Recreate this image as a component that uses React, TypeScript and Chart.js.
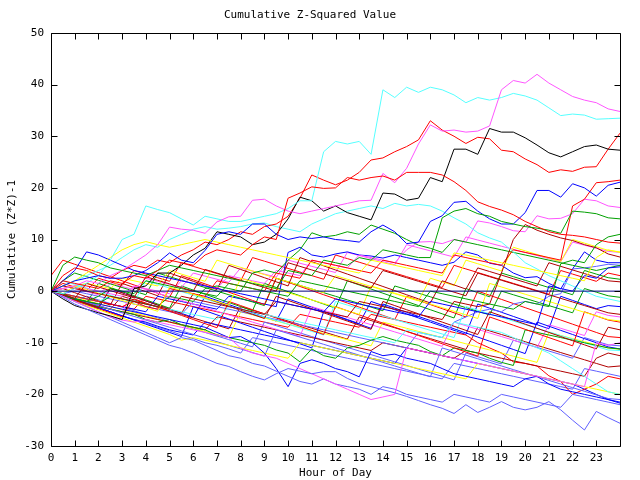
import React, { useEffect, useRef } from "react";
import { Chart, registerables } from "chart.js";

Chart.register(...registerables);

// x positions (hour of day), half-hour steps
const HOURS = [0,0.5,1,1.5,2,2.5,3,3.5,4,4.5,5,5.5,6,6.5,7,7.5,8,8.5,9,9.5,10,10.5,11,11.5,12,12.5,13,13.5,14,14.5,15,15.5,16,16.5,17,17.5,18,18.5,19,19.5,20,20.5,21,21.5,22,22.5,23,23.5,24];
const X_TICKS = [0,1,2,3,4,5,6,7,8,9,10,11,12,13,14,15,16,17,18,19,20,21,22,23];
const Y_TICKS = [-30,-20,-10,0,10,20,30,40,50];

const S_CYAN_TOP = [0,-0.5,0.5,1.5,3,6,10,11, 16.5,15.8,15.2,14,12.8,14.5,14,13.5, 13.5,14,14.5,15,16,17.5,17.5,27, 29,28.5,29,26.5,39,37.5,39.5,38.5, 39.5,39,38,36.5,37.5,37,37.5,38.3, 37.8,37,35.5,34,34.3,34.1,33.3,33.4, 33.5];
const S_MAG_TOP = [0,0.5,1,2,1.5,3,4,5.5, 7,9,12.4,12,11.8,11.2,13.4,14.4, 14.5,17.6,17.8,16.5,15.5,15,15.5,16, 16.5,17,17.5,17.6,22.8,21,23.8,28.5, 32.2,31,31.2,30.8,31,32,39,40.8, 40.3,42,40.3,39,37.7,37,36.5,35.3, 34.8];
const S_RED_TOP = [0,3,4.5,4,3,2.5,4,5, 4.5,6,5.5,7,8,9.5,9,10, 11.5,11,12.5,13,14.5,18,22.5,21.5, 20.6,21.5,23,25.4,25.8,27,28,29.3, 33,31.2,30,28.6,29.8,29.5,27.3,27, 25.6,24.5,23,23.5,23.2,24,24.1,27.5, 30.6];
const S_RED_2 = [0,2,1.5,1,0.5,2,1.5,3, 2.5,4,6,5.5,5,7,8,7.5, 7,9,10.5,10,18,19,20.2,19.9, 20,22,21.5,22,22.3,21.5,23,23, 23,22.5,21.2,19.5,17.3,16.4,15.7,14.8, 13.5,12.5,11.5,11,10.8,10.5,10,9.5, 9.3];
const S_BLACK = [0,-1.5,-2.8,-3.5,-4.2,-4.8,-5.5,0.5, 1,3.5,3.5,5,7,8.3,11.5,11, 10.5,9,9.5,11,14,18.2,17.5,15.5, 16.5,15.2,14.5,13.8,19,18.8,17.6,18, 22,21.2,27.5,27.5,26.5,31.5,30.8,30.8, 29.7,28.3,26.8,26,27,28,28.3,27.5, 27.3];
const S_BLUE_1 = [0,1,2,2.5,3,2.5,2.5,3, 4,5.5,7.4,6,5.5,7.9,11,11.5, 11,13,13,11,10,10.5,10.2,10.5, 10,9.8,9.5,11.5,12.8,11.5,9.2,9.5, 13.5,14.6,17.2,17.4,15.5,14,13,13, 15.2,19.5,19.5,18.2,20.8,20,18.4,20.5, 21.1];
const S_RED_3 = [0,-0.5,-1,-1.5,-2,-2.5,-3,-2, -3,-3.5,0.5,0,-0.5,-1,2,1.5, 1,0.5,0,3.5,3,2.5,6,5.5, 5,4.5,4,3.5,6,5.5,5,4.5, 4,3.5,7,6.5,6,5.5,5,8, 7.5,7,6.5,6,16.5,17.8,21,21.2, 21.5];
const S_GREEN_1 = [0,5,6.6,6,5.5,4.5,4,3.5, 3,4,5,4.5,4,3.5,3,2.5, 2,1.5,1,0.5,4,3.5,3,6, 5.5,5,6.5,6,8,7.5,7,6.5, 6.5,14.2,15.5,16,15,14.5,13.5,13, 12.5,12.2,11.8,11.2,15.5,15.3,15,14.2, 14];
const S_GREEN_2 = [0,-0.5,-1.5,-2,-1,0.5,0,-0.5, 2,1.5,1,0.5,0,-0.5,-1,1.5, 1,0.5,0,-0.5,-1,2,1.5,1, 0.5,0,-0.5,-1,-1.5,-2,-2.5,-3, 0,-0.5,-1,-1.5,-2,-2.5,-3,-3.5, -2,-2.5,-3,5.3,6,5.5,9,10.5, 11];
const S_GREEN_3 = [0,-1,-1.5,-2,-2.5,-1,-1.5,-2, -2.5,-3,-1,-1.5,-2,0.5,1,0.5, 0,3.5,4.1,3.5,6,8,11.3,10.5, 10.8,11.5,11,12.8,12,11.2,10,8.9, 8.3,7.5,10,9.5,9,8.5,8,7.5, 7,6.5,6,5.5,5,4.5,4,4.5, 5];
const S_GREEN_4 = [0,-1,-1.7,-2.5,-3,-3.5,-4,-4.5, -5.5,-6,-5.5,-6.5,-7,-7.5,-8.5,-9, -9.5,-10,-10.5,-11.4,-12,-13.7,-11.2,-12.5, -13,-11,-10.5,-9.5,-8.8,-9.5,-10,-10.5, -11.7,-12.5,-11,-11.5,-12,-13,-13.8,-14.4, -7.5,-8,-8.5,-9,-9.5,-10,-10.5,-11, -11.2];
const S_GREEN_5 = [0,2,3.5,2.8,2.1,1.4,0.7,0, -0.7,3.5,2.8,2.1,1.4,0.7,0,-0.7, -1.4,-2.1,-2.8,2.5,1.8,1.1,0.4,-0.3, -1,-1.7,-2.4,-3.1,-3.8,1,0.3,-0.4, -1.1,-1.8,-2.5,-3.2,-3.9,-4.6,0,-0.7, -1.4,-2.1,-2.8,-3.5,-4.2,0.5,-0.2,-0.9, -1.2];
const S_GREEN_6 = [0,-0.8,-1.6,-2.4,1.5,0.7,-0.1,-0.9, -1.7,-2.5,-3.3,1,0.2,-0.6,-1.4,-2.2, -3,-3.8,1.5,0.7,-0.1,-0.9,-1.7,-2.5, -3.3,2,1.2,0.4,-0.4,-1.2,-2,-2.8, -3.6,-4.4,-5.2,0.5,-0.3,-1.1,3.5,2.8, 2.1,1.4,0.7,0,-0.7,4,3.3,2.6, 2.3];
const S_DRED_1 = [0,-0.7,-1.4,1.5,0.8,0.1,-0.6,-1.3, 2.8,2.1,1.4,0.7,0,4.2,3.5,2.8, 2.1,1.4,0.7,0,5.5,4.8,4.1,3.4, 2.7,2,1.3,0.6,4,3.3,2.6,1.9, 1.2,0.5,-0.2,-0.9,3.5,2.8,2.1,1.4, 0.7,0,-0.7,-1.4,-2.1,-2.8,-3.5,-4.2, -4.5];
const S_DRED_2 = [0,1,0.5,0,-0.5,-1,-1.5,-2, -2.5,-3,-3.5,-1,-1.5,-2,-2.5,-3, -3.5,-4,-4.5,-2,-2.5,-3,-3.5,-4, -4.5,-5,-2,-2.5,-3,-3.5,-4,-4.5, -5,-5.5,-2,-2.5,-3,-2.5,3.5,10, 12.9,11.8,11,10.3,9.8,9,8.4,7.2, 6.6];
const S_DRED_3 = [0,-0.8,-1.6,-2.4,-3.2,0.5,-0.3,-1.1, -1.9,-2.7,-3.5,-4.3,-0.5,-1.3,-2.1,-2.9, -3.7,-4.5,-5.3,-1,-1.8,-2.6,-3.4,-4.2, -5,-5.8,-6.6,-7.4,-2,-2.8,-3.6,-4.4, -5.2,-6,-6.8,-7.6,-8.4,-4,-4.8,-5.6, -6.4,-7.2,-8,-8.8,-9.6,-10.4,-11.2,-7, -7.5];
const S_DRED_4 = [0,0.5,-0.3,-1.1,-1.9,-2.7,1.5,0.7, -0.1,-0.9,3.5,2.7,1.9,1.1,0.3,5, 4.2,3.4,2.6,1.8,1,6.5,5.7,4.9, 4.1,3.3,2.5,1.7,0.9,0.1,-0.7,-1.5, -2.3,2,1.2,0.4,4.5,3.8,3.1,2.4, 1.7,1,5.5,4.8,4.1,3.4,2.7,2, 1.8];
const S_DRED_5 = [0,-0.8,-1.5,-2.2,-3,-3.5,-4,-4.5, -5,-5.5,-6,-6.5,-7,-7.5,-5,-5.5, -6,-6.5,-7,-7.5,-8,-8.5,-9,-9.5, -10,-10.5,-11,-11.5,-10,-10.5,-11,-11.5, -12,-12.5,-13,-11.5,-12,-12.5,-13,-13.5, -14,-14.5,-15,-15.5,-16,-16.5,-13,-12, -12.5];
const S_DRED_6 = [0,-0.7,-1.4,-2.1,-2.8,-3.5,-1,-1.7, -2.4,-3.1,-3.8,-4.5,-5.2,-5.9,-6.6,-7.3, -3,-3.7,-4.4,-5.1,-5.8,-6.5,-7.2,-7.9, -8.6,-9.3,-5,-5.7,-6.4,-7.1,-7.8,-8.5, -9.2,-9.9,-10.6,-11.3,-7,-7.7,-8.4,-9.1, -9.8,-10.5,-11.2,-11.9,-12.6,-13.3,-14,-14.7, -14.5];
const S_RED_4 = [0,-1,-1.8,-2.6,-3.4,-4.2,-5,-1.5, -2.3,-3.1,-3.9,-4.7,-5.5,-6.3,-7.1,-2, -2.8,-3.6,-4.4,-5.2,-6,-6.8,-7.6,-8.4, -3,-3.8,-4.6,-5.4,-6.2,-7,-7.8,-8.6, -9.4,-10.2,-11,-11.8,-12.6,-5,-5.8,-6.6, -7.4,-8.2,-9,-9.8,-10.6,-4,-4.8,-5.6, -6];
const S_RED_5 = [3,6,5.2,4.4,3.6,2.8,2,1.2, 0.4,-0.4,-1.2,3,2.2,1.4,0.6,-0.2, -1,-1.8,-2.6,2.5,1.7,0.9,0.1,-0.7, -1.5,-2.3,-3.1,-3.9,-4.7,-5.5,-1,-1.8, -2.6,-3.4,-4.2,-5,0,-0.8,-1.6,-2.4, -3.2,-4,-4.8,-5.6,-6.4,-7.2,-8,-8.8, -9];
const S_RED_6 = [0,-0.5,-1,-1.5,-2,-2.5,-3,-3.5, -1,-1.5,-2,-2.5,-3,-3.5,-4,-4.5, -5,-5.5,-6,-6.5,-7,-4.5,-5,-5.5, -6,-6.5,-7,-4.5,-5,-5.5,-6,-6.5, -7,-7.5,-8,-8.5,-10,-11,-12,-13.7, -14,-14.5,-16.4,-17.5,-20,-19,-18,-16.5, -17];
const S_RED_7 = [0,1.5,0.8,0.1,2.5,1.8,1.1,4, 3.3,2.6,1.9,5.5,4.8,4.1,3.4,2.7, 2,6.5,5.8,5.1,4.4,3.7,3,2.3, 7,6.3,5.6,4.9,4.2,3.5,2.8,2.1, 1.4,0.7,5,4.3,3.6,2.9,2.2,1.5, 0.8,0.1,-0.6,4,3.3,2.6,1.9,3.5, 3];
const S_BLUE_2 = [0,2,4,7.6,7,6,5,4, 3.5,3,2.5,2,1.5,1,0.5,0, -0.5,-1,-1.5,-2,-2.5,-3,-3.5,-4, -1.5,-2,-2.5,-3,-3.5,-4,-4.5,-5, -2,-2.5,-3,-3.5,-4,-4.5,-5,-5.5, -6,-6.5,1,0.5,0,3,2.5,4.5, 4.7];
const S_BLUE_3 = [0,-1,-1.5,-2,-2.5,-3,-3.5,-4, -4.5,-5,-5.5,-6,-6.5,-7,-8,-9, -8.8,-10,-12,-15,-18.5,-14,-13.3,-14, -15,-15.6,-16.6,-11.7,-12.5,-12.2,-13,-13.5, -14,-15,-16,-16.5,-17,-17.5,-18,-18.5, -17,-16.5,-18,-19,-19.5,-20,-20.5,-21, -21.5];
const S_BLUE_4 = [0,-0.8,-1.6,-2.4,-3.2,-4,-4.8,-5.6, -6.4,-7.2,-8,-8.8,-3,-3.8,-4.6,-5.4, -6.2,-7,-7.8,-8.6,-9.4,-10.2,-11,-4, -4.8,-5.6,-6.4,-7.2,-2.5,-3.3,-4.1,-4.9, -5.7,-6.5,-7.3,-8.1,-8.9,-9.7,-10.5,-11.3, -12.1,-6,-6.8,-7.6,-8.4,-9.2,-10,-10.8, -11.2];
const S_BLUE_5 = [0,-0.5,-1,-1.5,-2,-2.5,-3,-3.5, -4,-1,-1.5,-2,-2.5,-3,-3.5,-1, -1.5,-2,-2.5,-3,7.5,8.5,7,6.6, 7.2,7.6,7,6.8,6.4,7,6.5,6, 5.5,5,5.6,7.6,7,5.4,5,3.5, 2.6,2.8,1.5,0.4,4.3,7.6,6,5.5, 5.5];
const S_BLUE_6 = [0,-1,-1.8,-2.5,-3.2,-4,-4.8,-5.5, -6,-6.8,-7.5,-8,-8.5,-6,-6.5,-7, -7.5,-8,-8.5,-9,-9.5,-10,-10.5,-11, -11.5,-12,-12.5,-13,-13.5,-14,-11,-11.5, -12,-12.5,-13,-13.5,-14,-14.5,-15,-15.5, -16,-16.5,-17,-17.5,-18,-19,-20,-21, -21.7];
const S_BLUE_7 = [0,-1,-1.8,-2.6,-3.4,0.5,-0.3,-1.1, -1.9,-2.7,-3.5,-4.3,-5.1,-1,-1.8,-2.6, -3.4,-4.2,-5,-5.8,-1.5,-2.3,-3.1,-3.9, -4.7,-5.5,-6.3,-2,-2.8,-3.6,-4.4,-5.2, -6,-6.8,-7.6,-8.4,-2.5,-3.3,-4.1,-4.9, -5.7,-6.5,-7.3,-1,-1.8,-2.6,-3.4,-2.8, -3];
const S_LBLUE_1 = [0,-1.2,-2.5,-3.5,-4.5,-5.5,-6.5,-7.5, -8.5,-9.5,-10.5,-11.1,-12,-13,-14,-14.6, -15.6,-16.5,-17.2,-16,-15,-15.5,-16,-15.6, -15.6,-16.9,-17.9,-18.5,-19.1,-19.7,-20.4,-21.2, -22,-22.7,-23.7,-22,-23.5,-22.5,-21.4,-22.5, -23,-22.5,-21.4,-23,-25,-26.9,-23.3,-24.5, -25.6];
const S_LBLUE_2 = [0,-1,-2,-3,-4,-5,-6,-7, -8,-9,-10,-9,-9.5,-10.5,-11.5,-12.5, -13,-14,-14.5,-15.5,-16.5,-17.5,-18,-17, -18,-18.5,-19,-20,-18.5,-19,-20,-20.5, -21,-21.5,-20,-20.5,-21,-21.5,-20,-20.5, -21,-21.5,-22,-22.5,-20,-20.5,-21,-21.5, -22];
const S_LBLUE_3 = [0,-0.7,-1.4,-2.1,-2.8,-3.5,-4.2,-4.9, -5.6,-6.3,-7,-7.7,-8.4,-9.1,-9.8,-10.5, -11.2,-11.9,-12.6,-7.5,-8.2,-8.9,-9.6,-10.3, -11,-11.7,-12.4,-13.1,-13.8,-14.5,-15.2,-15.9, -16.6,-11,-11.7,-12.4,-13.1,-13.8,-14.5,-15.2, -15.9,-16.6,-17.3,-18,-18.7,-19.4,-20.1,-20.8, -21];
const S_LBLUE_4 = [0,-0.5,0,-0.5,-1,-1.5,-2,-2.5, -3,-3.5,-4,-4.5,-2,-2.5,-3,-3.5, -4,-4.5,-5,-5.5,-6,-6.5,-7,-7.5, -8,-8.5,-9,-9.5,-10,-10.5,-11,-8, -8.5,-9,-6,-5,-4,-3.5,-4,-2.5, -2,-2.5,-1,-0.5,4.3,4.5,4.8,5.2, 5];
const S_LBLUE_5 = [0,-1,-1.7,-1,-1.7,-2.4,-3.1,-3.8, -4.5,-5.2,-5.9,-6.6,-7.3,-8,-8.7,-9.4, -10.1,-10.8,-6,-6.7,-7.4,-8.1,-8.8,-9.5, -10.2,-10.9,-11.6,-12.3,-13,-13.7,-14.4,-15.1, -15.8,-16.5,-17.2,-12,-12.7,-13.4,-14.1,-9.5, -10.2,-10.9,-11.6,-12.3,-13,-9,-9.7,-10.4, -10.6];
const S_LBLUE_6 = [0,-0.8,-1.6,-2.4,-3.2,-4,-4.8,-5.5, -6.2,-7,-7.7,-8.5,-9.2,-10,-10.5,-11.2, -12,-9,-9.5,-10,-10.5,-11,-11.5,-12, -12.5,-13,-13.5,-14,-14.5,-15,-15.5,-16, -16.5,-17,-14,-14.5,-15,-15.5,-16,-16.5, -17,-17.5,-18,-18.5,-19,-15,-15.5,-16, -16.5];
const S_MAG_2 = [0,-1,-2,-3,-4,-5,-5.6,-6, -5.5,-6,-6.5,-7,-7.5,-8,-8.5,-9, -11,-12,-12.5,-13,-14,-15,-16,-17, -18,-19,-20,-21,-20.5,-20,-11,-11.5, -12,-12.5,-13,-13.5,-14,-14.5,-15,-15.5, -16,-16.5,-17,-17.5,-18,-18.5,-10,-10.5, -10];
const S_MAG_3 = [0,0.5,1,0.5,0,-0.5,-1,1, 0.5,0,-0.5,2,1.5,1,0.5,3, 2.5,2,1.5,4,3.5,3,6,5.5, 5,4.5,7,6.5,6,5.5,8,9.5, 9.6,9.2,10,9.5,13.6,13.2,12.5,11.7, 11.5,14.6,14,14.1,15,17.8,17.5,16.5, 16.2];
const S_MAG_4 = [0,-0.7,-1.4,-2.1,-2.8,-3.5,-4.2,1, 0.3,-0.4,-1.1,-1.8,-2.5,-3.2,-3.9,-4.6, -5.3,-6,-6.7,-7.4,-8.1,-8.8,-3,-3.7, -4.4,-5.1,-5.8,-6.5,-7.2,-7.9,-8.6,-9.3, -10,-10.7,-6,-6.7,-7.4,-8.1,-8.8,-9.5, -10.2,-10.9,-6.5,-7.2,-7.9,-8.6,-4,-4.7, -5];
const S_MAG_5 = [0,-0.6,0.5,-0.1,-0.7,1.5,0.9,0.3, 2.5,1.9,1.3,0.7,3.5,2.9,2.3,1.7, 4.5,3.9,3.3,2.7,6,5.4,4.8,4.2, 3.6,7.5,6.9,6.3,5.7,5.1,9,8.4, 7.8,7.2,6.6,10.5,9.9,9.3,8.7,8.1, 7.5,6.9,6.3,5.7,9.5,8.9,8.3,7.7, 7.5];
const S_CYAN_2 = [0,1,2,3,4,5,6.5,8, 9,8.5,10,11,12,12.5,12,12.2, 12.5,13,13.2,12.5,12,11.5,13,14, 15,15.5,16,16.5,16,17,16.5,16.8, 16.5,15.5,14.2,13,11.3,10.3,9.5,7.6, 5.5,4.3,3,2,1,0,-1,-1.5, -2];
const S_CYAN_3 = [0,-0.5,-1,-1.5,-2,-1,-1.5,-2, -2.5,-3,-3.5,-4,-4.5,-5,-5.5,-3, -3.5,-4,-4.5,-5,-5.5,-6,-6.5,-7, -7.5,-8,-8.5,-9,-9.5,-10,-7.5,-8, -8.5,-9,-6,-6.5,-7,-7.5,-8,-9, -10,-11,-12,-13.5,-15,-16.5,-18,-19.5, -20];
const S_CYAN_4 = [0,2,1.3,0.6,-0.1,-0.8,-1.5,-2.2, 2,1.3,0.6,-0.1,-0.8,-1.5,-2.2,-2.9, -3.6,-4.3,-5,-5.7,-6.4,-7.1,-7.8,-8.5, -2,-2.7,-3.4,-4.1,-4.8,-5.5,-6.2,-6.9, -7.6,-8.3,-9,-3,-3.7,-4.4,-5.1,-5.8, -6.5,-7.2,-7.9,-8.6,-9.3,-10,-10.7,-11.4, -11.5];
const S_YEL_1 = [0,1,2,3.5,5,6.5,8,9, 9.6,9,8.5,9,9.5,10,9.5,9, 8.5,8,7.5,7,6.5,6,5.5,5, 4.5,4,3.5,6,5.5,5,4.5,4, 3.5,3,7.4,7,6.5,6,5.5,5, 4.5,4,3.5,3,2.5,2,6.5,8, 7.5];
const S_YEL_2 = [0,-0.5,1,0.3,-0.4,-1.1,-1.8,-2.5, -3.2,-3.9,0.8,0.1,-0.6,-1.3,-2,-2.7, 2.5,1.8,1.1,0.4,-0.3,-1,-1.7,-2.4, -3.1,-3.8,-4.5,1,0.3,-0.4,-1.1,-1.8, -2.5,-3.2,-3.9,-4.6,-5.3,1.5,0.8,0.1, -0.6,-1.3,-2,-2.7,-3.4,-4.1,-4.8,-5.5, -5.8];
const S_YEL_3 = [0,-1,-2,-2.8,-3.6,-4.4,-5.2,-6, -6.8,-7.6,-8.4,-9.5,-9,-9.5,-10,-10.5, -11,-11.5,-12,-12.5,-13,-10,-10.5,-11, -11.5,-12,-12.5,-13,-13.5,-14,-14.5,-15, -15.5,-16,-16.5,-17,-14,-14.5,-15,-15.5, -16,-16.5,-17,-17.5,-18,-18.5,-19,-19.5, -20];
const S_YEL_4 = [0,0.5,1,1.5,1,0.5,2.5,2, 1.5,1,4,3.3,2.6,1.9,6,5.3, 4.6,3.9,3.2,2.5,1.8,1.1,0.4,-0.3, 3,2.3,1.6,0.9,0.2,-0.5,-1.2,-1.9, 2.5,1.8,1.1,6,5.3,4.6,3.9,8.5, 7.8,7.1,6.4,5.7,10,9.3,8.6,7.9, 7.6];
const S_YEL_5 = [0,-0.6,-1.2,-1.8,-2.4,-3,-3.6,-4.2, -4.8,-5.4,-6,-6.6,-7.2,-7.8,-8.4,-9, -4,-4.6,-5.2,-5.8,-6.4,-7,-7.6,-8.2, -8.8,-9.4,-10,-10.6,-6,-6.6,-7.2,-7.8, -8.4,-9,-9.6,-10.2,-10.8,-11.4,-12,-12.6, -13.2,-13.8,-8,-8.6,-9.2,-9.8,-10.4,-11, -11.3];
const ZERO_LINE = [0, 0];
const ZERO_X = [0, 24];

const RED = "#ff0000";
const GREEN = "#00a000";
const BLUE = "#0000ff";
const MAGENTA = "#ff55ff";
const CYAN = "#55ffff";
const YELLOW = "#ffff00";
const DARKRED = "#b00000";
const LIGHTBLUE = "#6060ff";
const BLACK = "#000000";
const NAVY = "#000080";

const SERIES: { values: number[]; color: string }[] = [
  { values: S_RED_2, color: RED },
  { values: S_GREEN_1, color: GREEN },
  { values: S_BLUE_1, color: BLUE },
  { values: S_MAG_TOP, color: MAGENTA },
  { values: S_CYAN_TOP, color: CYAN },
  { values: S_DRED_1, color: DARKRED },
  { values: S_YEL_1, color: YELLOW },
  { values: S_LBLUE_1, color: LIGHTBLUE },
  { values: S_BLACK, color: BLACK },
  { values: S_RED_TOP, color: RED },
  { values: S_GREEN_2, color: GREEN },
  { values: S_BLUE_2, color: BLUE },
  { values: S_MAG_2, color: MAGENTA },
  { values: S_CYAN_2, color: CYAN },
  { values: S_DRED_2, color: DARKRED },
  { values: S_YEL_2, color: YELLOW },
  { values: S_LBLUE_2, color: LIGHTBLUE },
  { values: S_RED_3, color: RED },
  { values: S_GREEN_3, color: GREEN },
  { values: S_BLUE_3, color: BLUE },
  { values: S_MAG_3, color: MAGENTA },
  { values: S_CYAN_3, color: CYAN },
  { values: S_DRED_3, color: DARKRED },
  { values: S_YEL_3, color: YELLOW },
  { values: S_LBLUE_3, color: LIGHTBLUE },
  { values: S_RED_4, color: RED },
  { values: S_GREEN_4, color: GREEN },
  { values: S_BLUE_4, color: BLUE },
  { values: S_MAG_4, color: MAGENTA },
  { values: S_CYAN_4, color: CYAN },
  { values: S_DRED_4, color: DARKRED },
  { values: S_YEL_4, color: YELLOW },
  { values: S_LBLUE_4, color: LIGHTBLUE },
  { values: S_RED_5, color: RED },
  { values: S_GREEN_5, color: GREEN },
  { values: S_BLUE_5, color: BLUE },
  { values: S_MAG_5, color: MAGENTA },
  { values: S_DRED_5, color: DARKRED },
  { values: S_YEL_5, color: YELLOW },
  { values: S_LBLUE_5, color: LIGHTBLUE },
  { values: S_RED_6, color: RED },
  { values: S_GREEN_6, color: GREEN },
  { values: S_BLUE_6, color: BLUE },
  { values: S_DRED_6, color: DARKRED },
  { values: S_LBLUE_6, color: LIGHTBLUE },
  { values: S_RED_7, color: RED },
  { values: S_BLUE_7, color: BLUE },
];

const FONT = "'DejaVu Sans Mono', 'Liberation Mono', monospace";

const framePlugin = {
  id: "frame",
  afterDraw(chart: any) {
    const { ctx, chartArea } = chart;
    const xs = chart.scales.x;
    const ys = chart.scales.y;
    const l = Math.round(chartArea.left) + 0.5;
    const r = Math.round(chartArea.right) + 0.5;
    const t = Math.round(chartArea.top) + 0.5;
    const b = Math.round(chartArea.bottom) + 0.5;
    ctx.save();
    ctx.strokeStyle = "#000";
    ctx.lineWidth = 1;
    ctx.beginPath();
    ctx.rect(l, t, r - l, b - t);
    X_TICKS.forEach((h) => {
      const px = Math.round(xs.getPixelForValue(h)) + 0.5;
      ctx.moveTo(px, b);
      ctx.lineTo(px, b - 6);
      ctx.moveTo(px, t);
      ctx.lineTo(px, t + 6);
    });
    Y_TICKS.forEach((v) => {
      const py = Math.round(ys.getPixelForValue(v)) + 0.5;
      ctx.moveTo(l, py);
      ctx.lineTo(l + 6, py);
      ctx.moveTo(r, py);
      ctx.lineTo(r - 6, py);
    });
    ctx.stroke();
    ctx.restore();
  },
};

export default function App() {
  const ref = useRef<HTMLCanvasElement | null>(null);

  useEffect(() => {
    document.body.style.margin = "0";
    const canvas = ref.current;
    if (!canvas) return;

    const datasets: any[] = [
      {
        label: "zero",
        data: ZERO_X.map((x, i) => ({ x, y: ZERO_LINE[i] })),
        borderColor: NAVY,
        borderWidth: 1,
        pointRadius: 0,
        tension: 0,
      },
      ...SERIES.map((s, k) => ({
        label: "s" + k,
        data: HOURS.map((h, i) => ({ x: h, y: s.values[i] })),
        borderColor: s.color,
        borderWidth: 1,
        pointRadius: 0,
        tension: 0,
        fill: false,
      })),
    ];

    const chart = new Chart(canvas, {
      type: "line",
      data: { datasets },
      plugins: [framePlugin],
      options: {
        responsive: false,
        animation: false,
        devicePixelRatio: 1,
        layout: { padding: { left: 0, right: 20, top: 0, bottom: 0 } },
        plugins: {
          legend: { display: false },
          tooltip: { enabled: false },
          title: {
            display: true,
            text: "Cumulative Z-Squared Value",
            color: "#000",
            font: { family: FONT, size: 11, weight: "normal" },
            padding: { top: 8.4, bottom: 11.4 },
          },
        },
        scales: {
          x: {
            type: "linear",
            min: 0,
            max: 24,
            grid: { display: false, drawTicks: false },
            border: { display: false },
            afterBuildTicks: (scale: any) => {
              scale.ticks = X_TICKS.map((v) => ({ value: v }));
            },
            afterFit: (scale: any) => {
              scale.height = 34;
            },
            ticks: {
              autoSkip: false,
              maxRotation: 0,
              padding: 6,
              color: "#000",
              font: { family: FONT, size: 11 },
            },
            title: {
              display: true,
              text: "Hour of Day",
              color: "#000",
              font: { family: FONT, size: 11 },
              padding: { top: 0, bottom: 0 },
            },
          },
          y: {
            type: "linear",
            min: -30,
            max: 50,
            grid: { display: false, drawTicks: false },
            border: { display: false },
            afterBuildTicks: (scale: any) => {
              scale.ticks = Y_TICKS.map((v) => ({ value: v }));
            },
            afterFit: (scale: any) => {
              scale.width = 51;
            },
            ticks: {
              padding: 7,
              color: "#000",
              font: { family: FONT, size: 11 },
            },
            title: {
              display: true,
              text: "Cumulative (Z*Z)-1",
              color: "#000",
              font: { family: FONT, size: 11 },
              padding: { top: 5.4, bottom: 0 },
            },
          },
        },
      },
    });
    return () => chart.destroy();
  }, []);

  return (
    <div style={{ width: 640, height: 480 }}>
      <canvas ref={ref} width={640} height={480} style={{ display: "block" }} />
    </div>
  );
}
